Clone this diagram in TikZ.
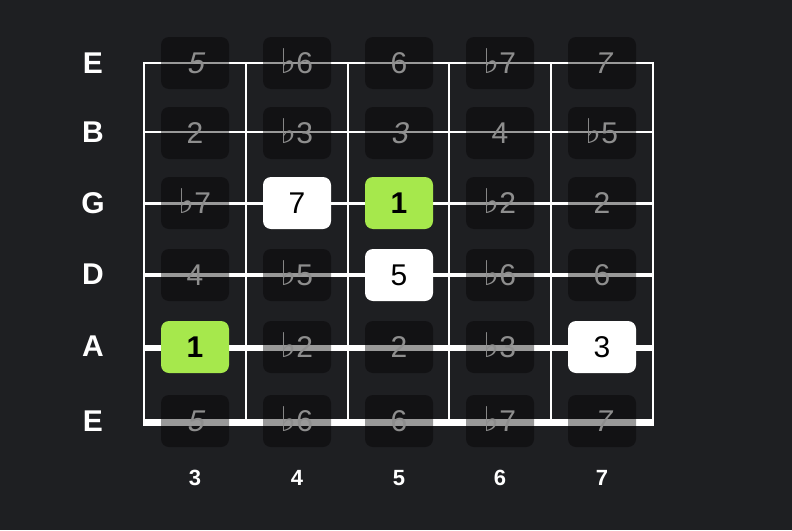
\documentclass[tikz,border=0pt]{standalone}
\usepackage{fontspec}
\setmainfont{Liberation Sans}
\newfontfamily\flatfont{DejaVu Sans}
\newfontfamily\slantfont{Liberation Sans}[FakeSlant=0.22]
\newcommand{\fl}{{\flatfont\fontsize{34}{34}\selectfont ♭}\kern-0.5pt}
\newcommand{\slnum}[1]{{\slantfont #1}}

\definecolor{boardBg}{HTML}{1E1F22}
\definecolor{dimText}{HTML}{8E8E8E}
\definecolor{rootGreen}{HTML}{A6E84C}

\tikzset{
	noteBox/.style={rectangle, minimum width=68pt, minimum height=52pt, rounded corners=8pt, inner sep=0pt, text height=21pt, text depth=0pt, font=\fontsize{30}{30}\selectfont},
	dimNote/.style={noteBox, fill=black, fill opacity=0.4, text opacity=1, text=dimText},
	toneNote/.style={noteBox, fill=white, text=black},
	rootNote/.style={noteBox, fill=rootGreen, text=black, font=\fontsize{30}{30}\selectfont\bfseries},
	stringName/.style={text=white, font=\fontsize{30}{30}\selectfont\bfseries},
	fretNum/.style={text=white, font=\fontsize{22}{22}\selectfont\bfseries},
	fretLine/.style={white, line width=2pt},
}

\begin{document}
\begin{tikzpicture}[x=1pt, y=-1pt]
	\fill[boardBg] (0,0) rectangle (792,530);
	\useasboundingbox (0,0) rectangle (792,530);

	% string names
	\node[stringName](eHighName) at (93,63){E};
	\node[stringName](bName) at (93,132){B};
	\node[stringName](gName) at (93,203){G};
	\node[stringName](dName) at (93,274){D};
	\node[stringName](aName) at (93,346){A};
	\node[stringName](eLowName) at (93,421){E};

	% frets
	\coordinate(fretThreeTop) at (144,62);   \coordinate(fretThreeBtm) at (144,426);
	\coordinate(fretFourTop) at (245.8,62);  \coordinate(fretFourBtm) at (245.8,426);
	\coordinate(fretFiveTop) at (347.6,62);  \coordinate(fretFiveBtm) at (347.6,426);
	\coordinate(fretSixTop) at (449.4,62);   \coordinate(fretSixBtm) at (449.4,426);
	\coordinate(fretSevenTop) at (551.2,62); \coordinate(fretSevenBtm) at (551.2,426);
	\coordinate(fretEndTop) at (653,62);     \coordinate(fretEndBtm) at (653,426);
	\draw[fretLine](fretThreeTop) -- (fretThreeBtm);
	\draw[fretLine](fretFourTop) -- (fretFourBtm);
	\draw[fretLine](fretFiveTop) -- (fretFiveBtm);
	\draw[fretLine](fretSixTop) -- (fretSixBtm);
	\draw[fretLine](fretSevenTop) -- (fretSevenBtm);
	\draw[fretLine](fretEndTop) -- (fretEndBtm);

	% strings
	\draw[white, line width=2pt](143,63) -- (654,63);
	\draw[white, line width=2pt](143,132) -- (654,132);
	\draw[white, line width=3pt](143,203.5) -- (654,203.5);
	\draw[white, line width=4pt](143,275) -- (654,275);
	\draw[white, line width=5.5pt](143,348) -- (654,348);
	\draw[white, line width=7pt](143,422.5) -- (654,422.5);

	% high E
	\node[dimNote](eHighThree) at (195,63){\slnum{5}};
	\node[dimNote](eHighFour) at (297,63){\fl6};
	\node[dimNote](eHighFive) at (399,63){6};
	\node[dimNote](eHighSix) at (500,63){\fl7};
	\node[dimNote](eHighSeven) at (602,63){\slnum{7}};

	% B
	\node[dimNote](bThree) at (195,133){2};
	\node[dimNote](bFour) at (297,133){\fl3};
	\node[dimNote](bFive) at (399,133){\slnum{3}};
	\node[dimNote](bSix) at (500,133){4};
	\node[dimNote](bSeven) at (602,133){\fl5};

	% G
	\node[dimNote](gThree) at (195,203){\fl7};
	\node[toneNote](gFour) at (297,203){7};
	\node[rootNote](gFive) at (399,203){1};
	\node[dimNote](gSix) at (500,203){\fl2};
	\node[dimNote](gSeven) at (602,203){2};

	% D
	\node[dimNote](dThree) at (195,275){4};
	\node[dimNote](dFour) at (297,275){\fl5};
	\node[toneNote](dFive) at (399,275){5};
	\node[dimNote](dSix) at (500,275){\fl6};
	\node[dimNote](dSeven) at (602,275){6};

	% A
	\node[rootNote](aThree) at (195,347){1};
	\node[dimNote](aFour) at (297,347){\fl2};
	\node[dimNote](aFive) at (399,347){2};
	\node[dimNote](aSix) at (500,347){\fl3};
	\node[toneNote](aSeven) at (602,347){3};

	% low E
	\node[dimNote](eLowThree) at (195,421){\slnum{5}};
	\node[dimNote](eLowFour) at (297,421){\fl6};
	\node[dimNote](eLowFive) at (399,421){6};
	\node[dimNote](eLowSix) at (500,421){\fl7};
	\node[dimNote](eLowSeven) at (602,421){\slnum{7}};

	% fret numbers
	\node[fretNum](numThree) at (195,478){3};
	\node[fretNum](numFour) at (297,478){4};
	\node[fretNum](numFive) at (399,478){5};
	\node[fretNum](numSix) at (500,478){6};
	\node[fretNum](numSeven) at (602,478){7};
\end{tikzpicture}
\end{document}
